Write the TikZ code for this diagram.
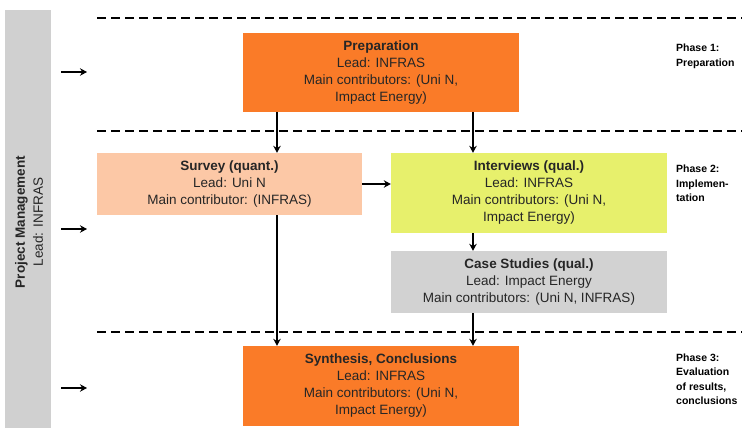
\documentclass[tikz,border=0pt]{standalone}
\usepackage{fontspec}
\setmainfont{Liberation Sans}
\usetikzlibrary{arrows.meta}
\definecolor{orangebox}{HTML}{FA7B28}
\definecolor{peachbox}{HTML}{FCC8A6}
\definecolor{limebox}{HTML}{E7F06C}
\definecolor{greybox}{HTML}{D2D2D2}
\definecolor{barcol}{HTML}{D0D0D0}
\tikzset{
  box/.style={rectangle, draw=none, inner sep=0pt, align=center,
    font=\fontsize{13.5}{17}\selectfont, text=black!85},
  arr/.style={line width=1.6pt, -{Stealth[length=7pt,width=7.5pt]}},
  phasedash/.style={line width=1.6pt, dash pattern=on 9pt off 5pt},
  phase/.style={anchor=base west, align=left, inner sep=0pt,
    font=\bfseries\fontsize{10.5}{14.5}\selectfont},
}
\begin{document}
\begin{tikzpicture}[x=1pt,y=-1pt]
\useasboundingbox (0,0) rectangle (742,430);
% left bar
\fill[barcol] (5,10) rectangle (51,428);
\node[rotate=90, align=center, inner sep=0pt, font=\fontsize{13.5}{18}\selectfont, text=black!85] (pm) at (29,222) {\textbf{Project Management}\\Lead: INFRAS};
% dashed separators
\coordinate (d1a) at (97,18);  \coordinate (d1b) at (742,18);
\coordinate (d2a) at (97,131); \coordinate (d2b) at (742,131);
\coordinate (d3a) at (97,332); \coordinate (d3b) at (742,332);
\draw[phasedash] (d1a) -- (d1b);
\draw[phasedash] (d2a) -- (d2b);
\draw[phasedash] (d3a) -- (d3b);
% boxes
\node[box, fill=orangebox, minimum width=276pt, minimum height=79pt] (prep) at (381,72.5)
  {\textbf{Preparation}\\Lead: INFRAS\\Main contributors: (Uni N,\\Impact Energy)};
\node[box, fill=peachbox, minimum width=265pt, minimum height=62pt] (surv) at (229.5,184)
  {\textbf{Survey (quant.)}\\Lead: Uni N\\Main contributor: (INFRAS)};
\node[box, fill=limebox, minimum width=276pt, minimum height=80pt] (intv) at (529,193)
  {\textbf{Interviews (qual.)}\\Lead: INFRAS\\Main contributors: (Uni N,\\Impact Energy)};
\node[box, fill=greybox, minimum width=276pt, minimum height=62pt] (case) at (529,282)
  {\textbf{Case Studies (qual.)}\\Lead: Impact Energy\\Main contributors: (Uni N, INFRAS)};
\node[box, fill=orangebox, minimum width=276pt, minimum height=80pt] (synth) at (381,386)
  {\textbf{Synthesis, Conclusions}\\Lead: INFRAS\\Main contributors: (Uni N,\\Impact Energy)};
% phase labels (anchor = baseline of last line)
\node[phase] (ph1) at (676,66.5) {Phase 1:\\Preparation};
\node[phase] (ph2) at (676,202) {Phase 2:\\Implemen-\\tation};
\node[phase] (ph3) at (676,405) {Phase 3:\\Evaluation\\of results,\\conclusions};
% connectors
\coordinate (xa) at (277,0);
\coordinate (xb) at (473,0);
\draw[arr] (prep.south -| xa) -- (surv.north -| xa);
\draw[arr] (prep.south -| xb) -- (intv.north -| xb);
\draw[arr] (surv.east) -- (intv.west |- surv.east);
\draw[arr] (intv.south -| xb) -- (case.north -| xb);
\draw[arr] (surv.south -| xa) -- (synth.north -| xa);
\draw[arr] (case.south -| xb) -- (synth.north -| xb);
% left arrows
\coordinate (l1a) at (61,72);  \coordinate (l1b) at (87,72);
\coordinate (l2a) at (61,229); \coordinate (l2b) at (87,229);
\coordinate (l3a) at (61,388); \coordinate (l3b) at (87,388);
\draw[arr] (l1a) -- (l1b);
\draw[arr] (l2a) -- (l2b);
\draw[arr] (l3a) -- (l3b);
\end{tikzpicture}
\end{document}
